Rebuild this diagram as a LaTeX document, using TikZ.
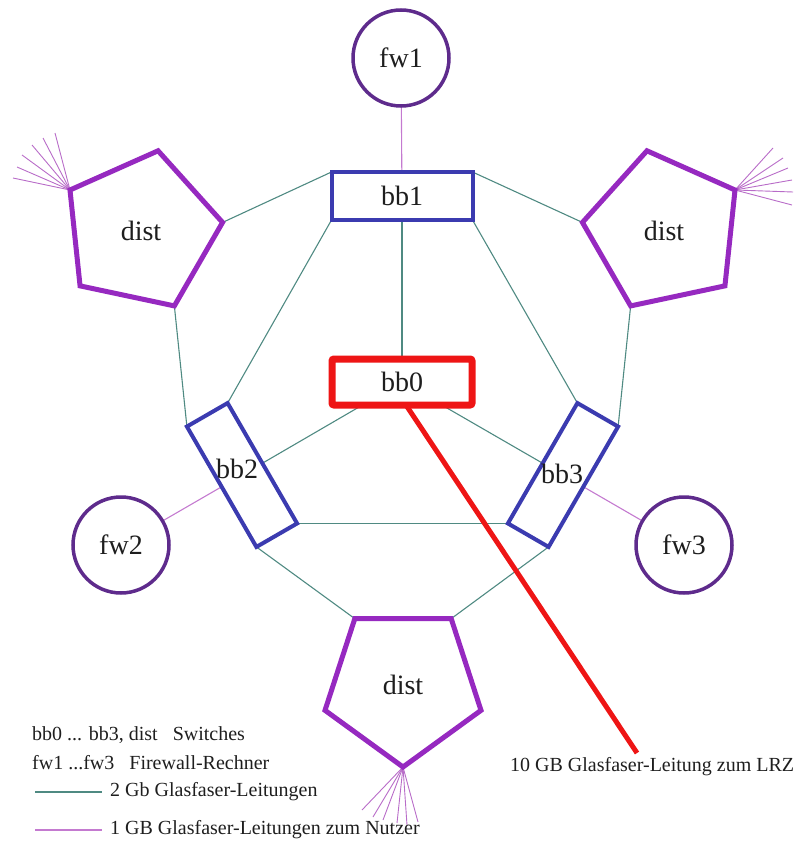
\documentclass[tikz,border=0pt]{standalone}
\usepackage{fontspec}
\setmainfont{Liberation Serif}
\usetikzlibrary{shapes.geometric,backgrounds}
\definecolor{bbblue}{HTML}{3B3BB0}
\definecolor{bbred}{HTML}{EE1515}
\definecolor{distpurple}{HTML}{9629C0}
\definecolor{fwpurple}{HTML}{5E2B8C}
\definecolor{gbteal}{HTML}{4F8A82}
\definecolor{userpink}{HTML}{C47AD0}
\definecolor{fanpink}{HTML}{B86CC8}
\definecolor{txt}{HTML}{1E1E1E}
\begin{document}
\begin{tikzpicture}[x=1pt,y=-1pt,
  lbl/.style={font=\fontsize{28}{30}\selectfont, text=txt},
  bbbox/.style={draw=bbblue, line width=4pt, fill=white, rectangle,
    minimum width=141pt, minimum height=48pt, inner sep=0pt, outer sep=0pt},
  corebox/.style={draw=bbred, line width=7pt, fill=white, rectangle, rounded corners=2pt,
    minimum width=140pt, minimum height=46pt, inner sep=0pt, outer sep=0pt, lbl},
  distbox/.style={draw=distpurple, line width=5pt, fill=white, regular polygon,
    regular polygon sides=5, minimum size=164pt, inner sep=0pt, outer sep=0pt, lbl},
  fwbox/.style={draw=fwpurple, line width=3.5pt, fill=white, circle,
    minimum size=96pt, inner sep=0pt, outer sep=0pt, lbl},
  gb/.style={draw=gbteal, line width=1.1pt},
  user/.style={draw=userpink, line width=1.1pt},
  fan/.style={draw=fanpink, line width=0.9pt},
  lrz/.style={draw=bbred, line width=5pt},
  legend/.style={font=\fontsize{20}{22}\selectfont, text=txt, anchor=west, inner sep=0pt}
]
\useasboundingbox (0,0) rectangle (805,867);

% nodes
\node[fwbox] (fw1) at (401,58) {fw1};
\node[fwbox] (fw2) at (121,545) {fw2};
\node[fwbox] (fw3) at (684,545) {fw3};

\node[bbbox, lbl] (bb1) at (402,196) {bb1};
\node[corebox] (bb0) at (402,382) {bb0};
\node[bbbox, minimum width=139pt, minimum height=47pt, rotate=-60] (bb2) at (242,475) {};
\node[bbbox, minimum width=139pt, minimum height=47pt, rotate=60] (bb3) at (563,475) {};
\node[lbl, inner sep=0pt] (bb2label) at (237,469) {bb2};
\node[lbl, inner sep=0pt] (bb3label) at (562,474) {bb3};

\node[distbox, shape border rotate=60] (dist1) at (141,231) {dist};
\node[distbox, shape border rotate=12] (dist2) at (664,231) {dist};
\node[distbox, shape border rotate=180] (dist3) at (403,685) {dist};

\coordinate (lrzend) at (637,753);

% connectors behind the nodes
\begin{pgfonlayer}{background}
  \draw[gb] (dist1.6) -- (bb1.north west);
  \draw[gb] (dist2.174) -- (bb1.north east);
  \draw[gb] (dist1.294) -- (bb2.south west);
  \draw[gb] (dist2.246) -- (bb3.south east);
  \draw[gb] (dist3.126) -- (bb2.south east);
  \draw[gb] (dist3.54) -- (bb3.south west);
  \draw[gb] (bb1.south west) -- (bb2.north west);
  \draw[gb] (bb1.south east) -- (bb3.north east);
  \draw[gb] (bb1) -- (bb0);
  \draw[gb] (bb0) -- (bb2.north);
  \draw[gb] (bb0) -- (bb3.north);
  \draw[gb] (bb2.north east) -- (bb3.north west);
  \draw[user] (fw1) -- (bb1);
  \draw[user] (bb2.south) -- (fw2);
  \draw[user] (bb3.south) -- (fw3);
  \foreach \p in {(55,133),(43,138),(32,145),(22,155),(17,167),(13,178)}
    \draw[fan] (dist1.150) -- \p;
  \foreach \p in {(773,148),(783,158),(788,168),(792,180),(793,192),(792,205)}
    \draw[fan] (dist2.30) -- \p;
  \foreach \p in {(362,810),(373,817),(383,820),(397,823),(407,825),(418,822)}
    \draw[fan] (dist3.270) -- \p;
\end{pgfonlayer}

\draw[lrz] ([xshift=4pt]bb0.south) -- (lrzend);
\node[legend] (lrztext) at (510,767) {10 GB Glasfaser-Leitung zum LRZ};

% legend
\node[legend] (leg1) at (32,735) {bb0 ... bb3, dist\ \ \ Switches};
\node[legend] (leg2) at (32,763) {fw1 ...fw3\ \ \ Firewall-Rechner};
\coordinate (l3a) at (35,792);
\coordinate (l3b) at (102,792);
\draw[gb] (l3a) -- (l3b);
\node[legend] (leg3) at (110,792) {2 Gb Glasfaser-Leitungen};
\coordinate (l4a) at (35,830);
\coordinate (l4b) at (102,830);
\draw[user] (l4a) -- (l4b);
\node[legend] (leg4) at (110,830) {1 GB Glasfaser-Leitungen zum Nutzer};
\end{tikzpicture}
\end{document}
